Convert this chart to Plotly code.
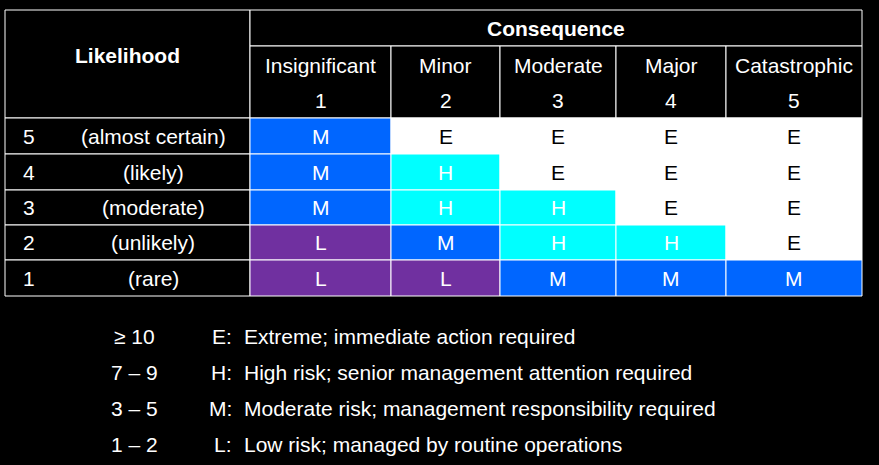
import plotly.graph_objects as go

consequences = ['Insignificant', 'Minor', 'Moderate', 'Major', 'Catastrophic']
cons_numbers = ['1', '2', '3', '4', '5']
likelihood_numbers = ['5', '4', '3', '2', '1']
likelihood_labels = ['(almost certain)', '(likely)', '(moderate)', '(unlikely)', '(rare)']
ratings = [
    ['M', 'E', 'E', 'E', 'E'],
    ['M', 'H', 'E', 'E', 'E'],
    ['M', 'H', 'H', 'E', 'E'],
    ['L', 'M', 'H', 'H', 'E'],
    ['L', 'L', 'M', 'M', 'M'],
]
legend_ranges = ['≥ 10', '7 – 9', '3 – 5', '1 – 2']
legend_codes = ['E:', 'H:', 'M:', 'L:']
legend_texts = ['Extreme; immediate action required',
                'High risk; senior management attention required',
                'Moderate risk; management responsibility required',
                'Low risk; managed by routine operations']

# layout geometry (pixels)
col_edges = [5, 250, 391, 500, 616, 726, 862]
row_edges = [118, 154, 190, 225, 260, 296]
top, head_split = 10, 46
fill = {'E': 'white', 'H': '#00ffff', 'M': '#0066ff', 'L': '#7030a0'}
txt = {'E': 'black', 'H': 'white', 'M': 'white', 'L': 'white'}
FS = 21
FONT = 'Liberation Sans, Arial'

fig = go.Figure()
shapes, ann = [], []
line = dict(color='white', width=1)

def cell(x0, y0, x1, y1, color='black'):
    shapes.append(dict(type='rect', x0=x0, x1=x1, y0=y0, y1=y1, fillcolor=color, line=line, layer='below'))

def text(x, y, s, color='white', bold=False, anchor='center', size=FS):
    ann.append(dict(x=x, y=y, text='<b>%s</b>' % s if bold else s, showarrow=False, xanchor=anchor,
                    font=dict(color=color, size=size, family=FONT)))

# header
cell(col_edges[0], top, col_edges[1], row_edges[0])
text((col_edges[0] + col_edges[1]) / 2, 55, 'Likelihood', bold=True)
cell(col_edges[1], top, col_edges[-1], head_split)
text((col_edges[1] + col_edges[-1]) / 2, 28, 'Consequence', bold=True)
for j, (name, num) in enumerate(zip(consequences, cons_numbers)):
    x0, x1 = col_edges[j + 1], col_edges[j + 2]
    cell(x0, head_split, x1, row_edges[0])
    text((x0 + x1) / 2, 65, name)
    text((x0 + x1) / 2, 100, num)

# body
for i in range(len(ratings)):
    y0, y1 = row_edges[i], row_edges[i + 1]
    ym = (y0 + y1) / 2
    cell(col_edges[0], y0, col_edges[1], y1)
    text(21, ym, likelihood_numbers[i], anchor='left')
    text(153, ym, likelihood_labels[i])
    for j, r in enumerate(ratings[i]):
        x0, x1 = col_edges[j + 1], col_edges[j + 2]
        cell(x0, y0, x1, y1, fill[r])
        text((x0 + x1) / 2, ym, r, color=txt[r])

# key
for k in range(len(legend_codes)):
    y = 336 + k * 36
    text(134, y, legend_ranges[k])
    text(234, y, legend_codes[k], anchor='right')
    text(242, y, legend_texts[k], anchor='left')

fig.update_layout(
    width=879, height=465, margin=dict(l=0, r=0, t=0, b=0),
    paper_bgcolor='black', plot_bgcolor='black', shapes=shapes, annotations=ann,
    xaxis=dict(range=[0, 879], visible=False, fixedrange=True),
    yaxis=dict(range=[465, 0], visible=False, fixedrange=True),
    showlegend=False,
)
fig.write_html('out.html', config={'displayModeBar': False},
               post_script="document.body.style.margin='0';document.body.style.overflow='hidden';document.body.style.background='black';")
